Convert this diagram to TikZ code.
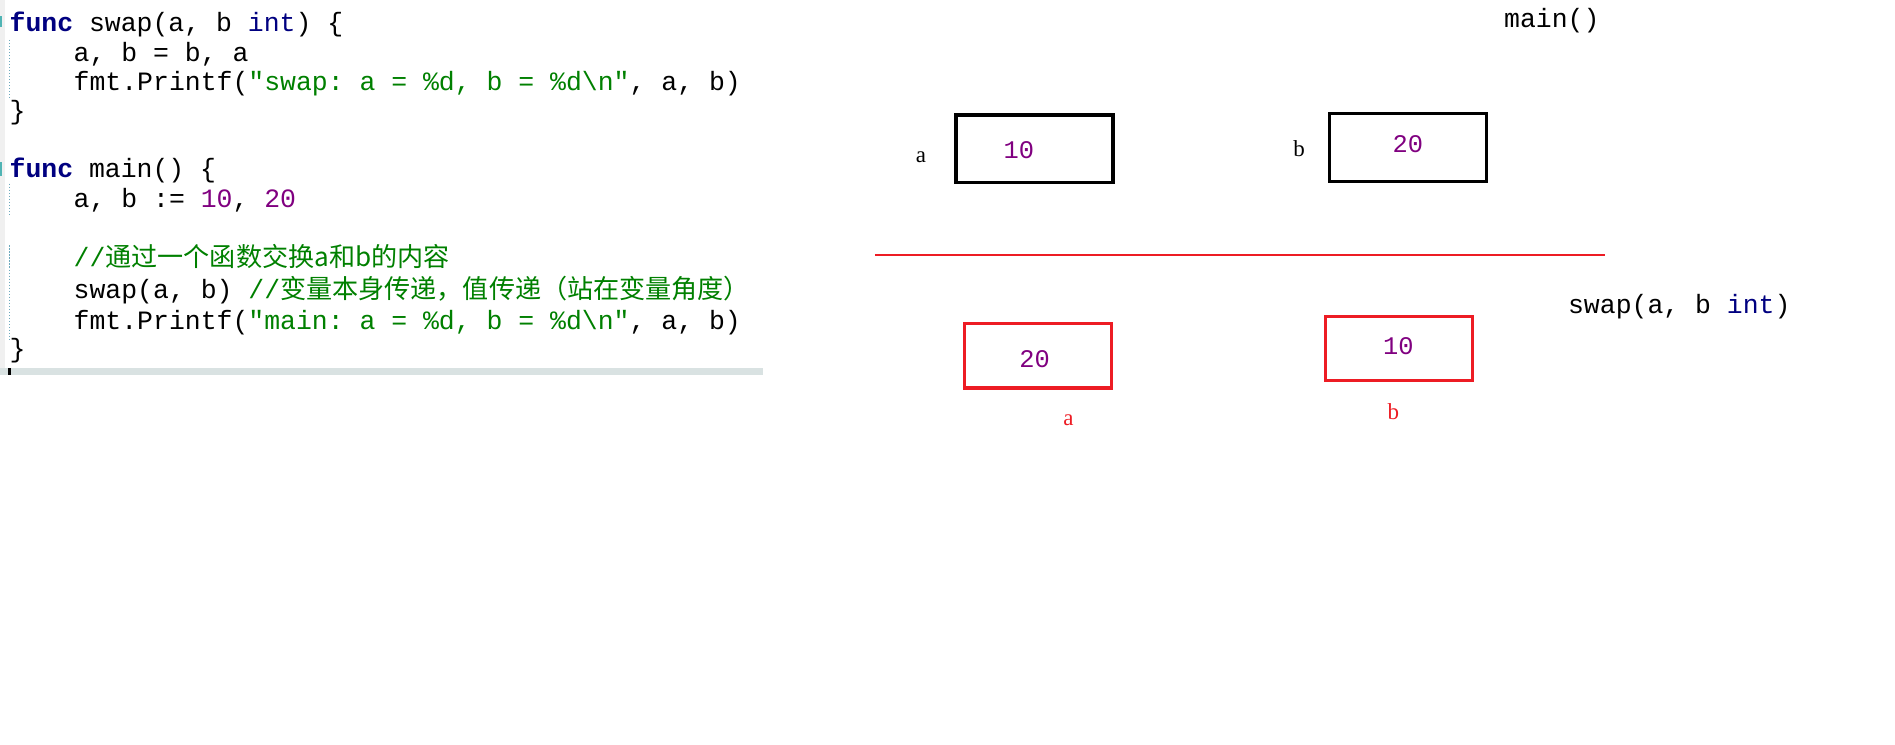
\documentclass[tikz,border=0pt]{standalone}
\usepackage{fontspec}
\setmonofont{Liberation Mono}
\newfontfamily\cjkf{Noto Sans CJK SC}
\newfontfamily\lblf{Liberation Serif}
\newcommand\codefnt{\ttfamily\fontsize{21.9}{24}\selectfont}
\newcommand\numfnt{\ttfamily\fontsize{21}{22}\selectfont}
\newcommand\cjkfnt{\cjkf\fontsize{21.6}{24}\selectfont}
\newcommand\lblfnt{\lblf\fontsize{19}{21}\selectfont}
\definecolor{kw}{RGB}{0,0,128}
\definecolor{str}{RGB}{0,128,0}
\definecolor{num}{RGB}{128,0,128}
\definecolor{pred}{RGB}{237,28,36}
\definecolor{gutter}{RGB}{240,240,240}
\definecolor{band}{RGB}{217,226,226}
\definecolor{markcol}{RGB}{80,180,180}
\definecolor{guide}{RGB}{110,170,190}
\newcommand\kwd[1]{\textcolor{kw}{\textbf{#1}}}
\newcommand\typ[1]{\textcolor{kw}{#1}}
\newcommand\strg[1]{\textcolor{str}{#1}}
\newcommand\nm[1]{\textcolor{num}{#1}}
\tikzset{
  code/.style={anchor=base west, inner sep=0pt, outer sep=0pt, font=\codefnt},
  title/.style={anchor=center, inner sep=0pt, outer sep=0pt, font=\codefnt},
  varbox/.style={draw=black, line width=2.8pt, minimum width=130pt, minimum height=56pt, inner sep=0pt},
  swapbox/.style={draw=pred, line width=2.6pt, minimum width=122pt, minimum height=53pt, inner sep=0pt},
  val/.style={anchor=center, inner sep=0pt, font=\numfnt, text=num},
  lbl/.style={anchor=center, inner sep=0pt, font=\lblfnt},
  guideline/.style={draw=guide, line width=1pt, dash pattern=on 1pt off 1.5pt}
}
\begin{document}
\begin{tikzpicture}[x=1pt,y=-1pt]
\useasboundingbox (0,0) rectangle (1568,616);
% editor chrome
\fill[gutter] (0,0) rectangle (4,304.5);
\fill[markcol] (0,13) rectangle (1.8,22);
\fill[markcol] (0,134) rectangle (1.8,146);
\draw[guideline] (7.7,33) -- (7.7,81);
\draw[guideline] (7.7,152) -- (7.7,178);
\draw[guideline] (7.7,203) -- (7.7,281);
\fill[band] (0,304.5) rectangle (631,310.3);
\fill[black] (7,304.5) rectangle (8.8,310.3);
% code
\node[code] (c1) at (8,26) {\kwd{func} swap(a, b \typ{int}) \{};
\node[code] (c2) at (61,50.5) {a, b = b, a};
\node[code] (c3) at (61,75) {fmt.Printf(\strg{"swap: a = \%d, b = \%d\textbackslash n"}, a, b)};
\node[code] (c4) at (8,99) {\}};
\node[code] (c5) at (8,146.5) {\kwd{func} main() \{};
\node[code] (c6) at (61,172) {a, b := \nm{10}, \nm{20}};
\node[code] (c7) at (61,220.5) {\strg{//{\cjkfnt 通过一个函数交换a和b的内容}}};
\node[code] (c8) at (61,247) {swap(a, b) \strg{//{\cjkfnt 变量本身传递，值传递（站在变量角度）}}};
\node[code] (c9) at (61,273) {fmt.Printf(\strg{"main: a = \%d, b = \%d\textbackslash n"}, a, b)};
\node[code] (c10) at (8,296) {\}};
% main() frame
\node[title] (tmain) at (1284,17) {main()};
\node[varbox] (ma) at (856,123) {};
\node[val] (mav) at (843,124) {10};
\node[lbl] (mal) at (762,130) {a};
\node[varbox] (mb) at (1165,122) {};
\node[val] (mbv) at (1165,119) {20};
\node[lbl] (mbl) at (1075,123) {b};
% separator
\coordinate (sepL) at (724,211);
\coordinate (sepR) at (1328,211);
\draw[pred, line width=2.4pt] (sepL) -- (sepR);
% swap frame
\node[title] (tswap) at (1389.5,254) {swap(a, b \typ{int})};
\node[swapbox] (sa) at (859,294.5) {};
\node[val] (sav) at (856,297) {20};
\node[lbl, text=pred] (sal) at (884,348) {a};
\node[swapbox] (sb) at (1157.5,288.5) {};
\node[val] (sbv) at (1157,286) {10};
\node[lbl, text=pred] (sbl) at (1153,341) {b};
\end{tikzpicture}
\end{document}
